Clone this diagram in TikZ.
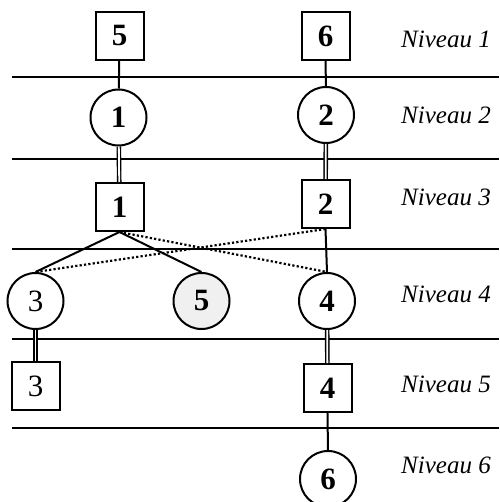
\documentclass[tikz,border=0pt]{standalone}
\usepackage{fontspec}
\setmainfont{Liberation Serif}
\begin{document}
\begin{tikzpicture}[x=1pt,y=-1pt,
  boite/.style={draw,line width=2pt,minimum size=48pt,inner sep=0pt,
    font=\fontsize{31}{31}\selectfont\bfseries},
  rond/.style={draw,circle,line width=2pt,minimum size=56pt,inner sep=0pt,
    font=\fontsize{31}{31}\selectfont\bfseries},
  niveau/.style={anchor=base west,inner sep=0pt,font=\fontsize{25}{25}\selectfont\itshape},
  trait/.style={line width=1.3pt},
  lien/.style={line width=2pt},
  lienD/.style={line width=1.4pt,double=white,double distance=1.8pt},
  lienP/.style={line width=2.2pt,dash pattern=on 2.2pt off 2.2pt}]
  \useasboundingbox (0,0) rectangle (499,502);
  % separations des niveaux
  \foreach \y in {77,159,249,339,428}
    \draw[trait] (12,\y)--(499,\y);
  % etapes
  \node[boite] (b5) at (119.5,36) {5};
  \node[boite] (b6) at (325.5,36) {6};
  \node[rond] (c1) at (118.5,117.5) {1};
  \node[rond] (c2) at (326,115) {2};
  \node[boite] (b1) at (119.5,207) {1};
  \node[boite] (b2) at (325.5,204) {2};
  \node[rond,font=\fontsize{31}{31}\selectfont] (c3) at (35.5,301) {3};
  \node[rond,fill=black!6] (c5) at (201.5,301) {5};
  \node[rond] (c4) at (327,301) {4};
  \node[boite,font=\fontsize{31}{31}\selectfont] (b3) at (35.5,386) {3};
  \node[boite] (b4) at (327.5,388) {4};
  \node[rond] (c6) at (328,479) {6};
  % liaisons
  \draw[lien] (b5)--(c1);
  \draw[lien] (b6)--(c2);
  \draw[lienD] (c1)--(b1);
  \draw[lienD] (c2)--(b2);
  \draw[lien] (b1.south)--(c3.north);
  \draw[lien] (b1.south)--(c5.north);
  \draw[lienP] (b1.south)--(c4.north);
  \draw[lien] (b2.south)--(c4.north);
  \draw[lienP] (b2.south)--(c3.north);
  \draw[lienD] (c3)--(b3);
  \draw[lienD] (c4)--(b4);
  \draw[lien] (b4)--(c6);
  % niveaux
  \node[niveau] (n1) at (401,48) {Niveau 1};
  \node[niveau] (n2) at (401,124) {Niveau 2};
  \node[niveau] (n3) at (401,206) {Niveau 3};
  \node[niveau] (n4) at (401,302) {Niveau 4};
  \node[niveau] (n5) at (401,392) {Niveau 5};
  \node[niveau] (n6) at (401,473) {Niveau 6};
\end{tikzpicture}
\end{document}
